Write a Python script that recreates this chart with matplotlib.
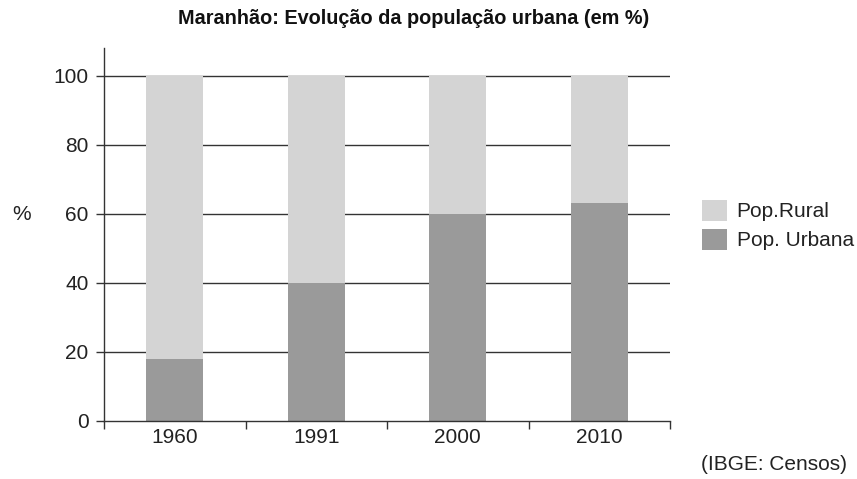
import matplotlib
matplotlib.use("Agg")
import matplotlib.pyplot as plt
import numpy as np

plt.rcParams['font.family'] = ['Liberation Sans', 'DejaVu Sans']

years = ["1960", "1991", "2000", "2010"]
urbana = [18, 40, 60, 63]
rural = [100 - u for u in urbana]
yticks = [0, 20, 40, 60, 80, 100]

fig = plt.figure(figsize=(8.57, 4.79), dpi=100)
ax = fig.add_axes([104/857, 58/479, (670-104)/857, (421-48)/479])

x = np.arange(len(years))
ax.set_xlim(-0.5, len(years) - 0.5)
ax.set_ylim(0, 108)

for y in yticks[1:]:
    ax.axhline(y, color='#333333', lw=1.0, zorder=1)

c_urb = '#9a9a9a'
c_rur = '#d4d4d4'
ax.bar(x, urbana, width=0.4, color=c_urb, zorder=2, label='Pop. Urbana')
ax.bar(x, rural, width=0.4, bottom=urbana, color=c_rur, zorder=2, label='Pop.Rural')

for s in ['top', 'right']:
    ax.spines[s].set_visible(False)
for s in ['left', 'bottom']:
    ax.spines[s].set_color('#333333')
    ax.spines[s].set_linewidth(1.0)

ax.set_yticks(yticks)
ax.set_yticklabels([str(v) for v in yticks], fontsize=15, color='#222222')
ax.tick_params(axis='y', length=5.5, width=1, color='#333333', pad=5.5)

ax.set_xticks(x)
ax.set_xticklabels(years, fontsize=15, color='#222222')
ax.tick_params(axis='x', length=0, pad=5)
ax.set_xticks(np.arange(len(years) + 1) - 0.5, minor=True)
ax.tick_params(axis='x', which='minor', length=6, width=1, color='#333333')

fig.text(12/857, 1 - 215/479, '%', fontsize=15, color='#222222', ha='left', va='center')

fig.text(414/857, 1 - 19/479, 'Maranhão: Evolução da população urbana (em %)',
         fontsize=14.3, fontweight='bold', ha='center', va='center', color='#111111')

handles, labels = ax.get_legend_handles_labels()
leg = fig.legend(handles[::-1], labels[::-1], loc='center left',
                 bbox_to_anchor=(698/857, 1 - 225/479), frameon=False,
                 fontsize=15, handlelength=1.2, handleheight=1.2,
                 handletextpad=0.45, labelspacing=0.35, borderaxespad=0, borderpad=0.2)
for t in leg.get_texts():
    t.set_color('#222222')

fig.text(847/857, 1 - 465/479, '(IBGE: Censos)', fontsize=15, ha='right', va='center',
         color='#222222')

fig.savefig('out.png', dpi=100)
